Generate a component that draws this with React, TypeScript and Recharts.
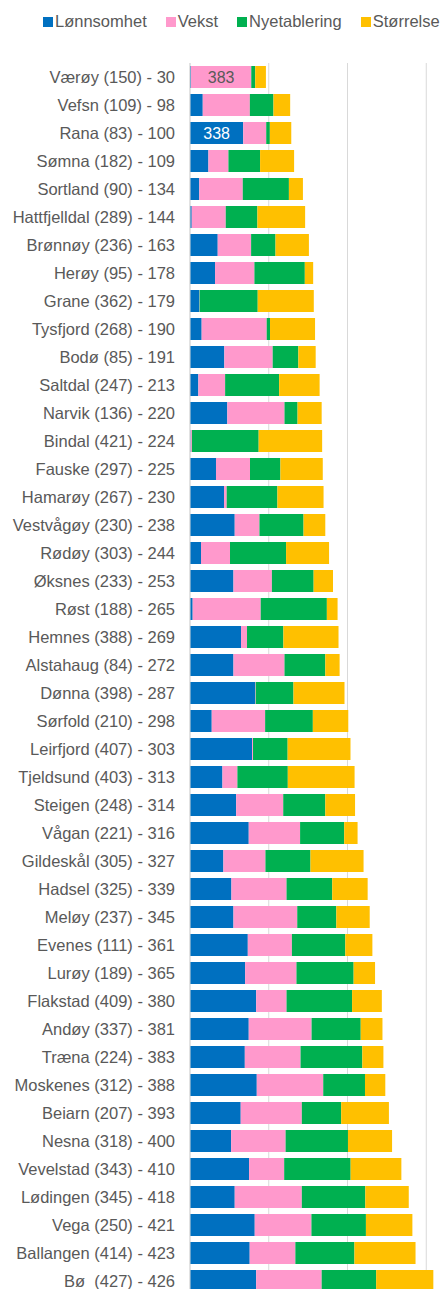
import React from 'react';
import { BarChart, Bar, XAxis, YAxis, CartesianGrid, Legend, LabelList } from 'recharts';

const categories = [
  'Værøy (150) - 30', 'Vefsn (109) - 98', 'Rana (83) - 100', 'Sømna (182) - 109',
  'Sortland (90) - 134', 'Hattfjelldal (289) - 144', 'Brønnøy (236) - 163', 'Herøy (95) - 178',
  'Grane (362) - 179', 'Tysfjord (268) - 190', 'Bodø (85) - 191', 'Saltdal (247) - 213',
  'Narvik (136) - 220', 'Bindal (421) - 224', 'Fauske (297) - 225', 'Hamarøy (267) - 230',
  'Vestvågøy (230) - 238', 'Rødøy (303) - 244', 'Øksnes (233) - 253', 'Røst (188) - 265',
  'Hemnes (388) - 269', 'Alstahaug (84) - 272', 'Dønna (398) - 287', 'Sørfold (210) - 298',
  'Leirfjord (407) - 303', 'Tjeldsund (403) - 313', 'Steigen (248) - 314', 'Vågan (221) - 316',
  'Gildeskål (305) - 327', 'Hadsel (325) - 339', 'Meløy (237) - 345', 'Evenes (111) - 361',
  'Lurøy (189) - 365', 'Flakstad (409) - 380', 'Andøy (337) - 381', 'Træna (224) - 383',
  'Moskenes (312) - 388', 'Beiarn (207) - 393', 'Nesna (318) - 400', 'Vevelstad (343) - 410',
  'Lødingen (345) - 418', 'Vega (250) - 421', 'Ballangen (414) - 423', 'Bø\u00A0 (427) - 426',
];

const lonnsomhet = [
  6, 81, 338, 117, 59, 11, 176, 159, 59, 74, 218, 53,
  237, 4, 165, 216, 284, 70, 276, 17, 324, 276, 413, 138,
  394, 206, 293, 373, 212, 263, 276, 367, 350, 420, 373, 348,
  424, 322, 261, 375, 284, 411, 379, 420,
];
const vekst = [
  383, 299, 146, 127, 276, 216, 212, 250, 2, 413, 307, 170,
  363, 8, 216, 17, 157, 184, 244, 432, 38, 324, 4, 339,
  6, 95, 299, 326, 267, 350, 405, 280, 326, 193, 399, 354,
  422, 388, 346, 223, 426, 360, 290, 416,
];
const nyetablering = [
  25, 150, 23, 201, 293, 201, 155, 320, 369, 21, 163, 343,
  83, 424, 193, 322, 280, 356, 265, 420, 231, 259, 240, 303,
  220, 320, 267, 280, 286, 290, 248, 339, 363, 416, 312, 392,
  265, 250, 396, 422, 403, 346, 375, 346,
];
const storrelse = [
  68, 106, 136, 216, 89, 303, 212, 53, 356, 286, 110, 257,
  153, 403, 269, 293, 138, 273, 123, 68, 350, 91, 324, 225,
  399, 424, 189, 85, 337, 225, 212, 172, 136, 189, 138, 134,
  129, 303, 280, 322, 276, 295, 388, 363,
];

const shownLabels = [
  { category: 'Værøy (150) - 30', series: 'vekst', text: '383' },
  { category: 'Rana (83) - 100', series: 'lonnsomhet', text: '338' },
];

const xTicks = [0, 500, 1000, 1500, 2000];

const seriesNames = ['Lønnsomhet', 'Vekst', 'Nyetablering', 'Størrelse'];
const seriesColors = ['#0070C0', '#FF99CC', '#00B050', '#FFC000'];

const labelFor = (cat: string, series: string) => {
  const f = shownLabels.find((l) => l.category === cat && l.series === series);
  return f ? f.text : undefined;
};

const data = categories.map((name, i) => ({
  name,
  lonnsomhet: lonnsomhet[i],
  vekst: vekst[i],
  nyetablering: nyetablering[i],
  storrelse: storrelse[i],
  lonnsomhetLabel: labelFor(name, 'lonnsomhet'),
  vekstLabel: labelFor(name, 'vekst'),
}));

const FONT = '"Liberation Sans", Arial, sans-serif';
const TEXT = '#595959';

const renderLegend = (props: any) => {
  const payload = [...(props.payload || [])].sort(
    (a: any, b: any) => seriesNames.indexOf(a.value) - seriesNames.indexOf(b.value)
  );
  return (
    <div style={{ display: 'flex', alignItems: 'center', fontFamily: FONT, fontSize: 16.5, color: TEXT, whiteSpace: 'nowrap' }}>
      {payload.map((p: any, i: number) => (
        <div key={i} style={{ display: 'flex', alignItems: 'center', marginRight: 19 }}>
          <span style={{ display: 'inline-block', width: 10, height: 10, background: p.color, marginRight: 2 }} />
          <span>{p.value}</span>
        </div>
      ))}
    </div>
  );
};

export default function App() {
  return (
    <div style={{ position: 'absolute', left: 0, top: 0, width: 443, height: 1289, overflow: 'hidden', background: '#fff' }}>
      <BarChart
        layout="vertical"
        width={505}
        height={1295}
        data={data}
        margin={{ top: 63, right: 0, bottom: 0, left: 0 }}
        barSize={22}
      >
        <CartesianGrid horizontal={false} stroke="#D9D9D9" />
        <XAxis type="number" domain={[0, 2000]} ticks={xTicks} hide />
        <YAxis
          type="category"
          dataKey="name"
          width={190}
          interval={0}
          tickLine={false}
          tickSize={0}
          tickMargin={15}
          axisLine={{ stroke: '#D9D9D9' }}
          tick={{ fill: TEXT, fontSize: 16.5, fontFamily: FONT }}
        />
        <Legend
          layout="horizontal"
          verticalAlign="middle"
          align="center"
          itemSorter={null as any}
          content={renderLegend}
          wrapperStyle={{ top: 12, left: 43, width: 420 }}
        />
        <Bar dataKey="lonnsomhet" name={seriesNames[0]} stackId="a" fill={seriesColors[0]} isAnimationActive={false}>
          <LabelList dataKey="lonnsomhetLabel" position="center" fill="#FFFFFF" fontSize={16} fontFamily={FONT} />
        </Bar>
        <Bar dataKey="vekst" name={seriesNames[1]} stackId="a" fill={seriesColors[1]} isAnimationActive={false}>
          <LabelList dataKey="vekstLabel" position="center" fill={TEXT} fontSize={16} fontFamily={FONT} />
        </Bar>
        <Bar dataKey="nyetablering" name={seriesNames[2]} stackId="a" fill={seriesColors[2]} isAnimationActive={false} />
        <Bar dataKey="storrelse" name={seriesNames[3]} stackId="a" fill={seriesColors[3]} isAnimationActive={false} />
      </BarChart>
    </div>
  );
}
